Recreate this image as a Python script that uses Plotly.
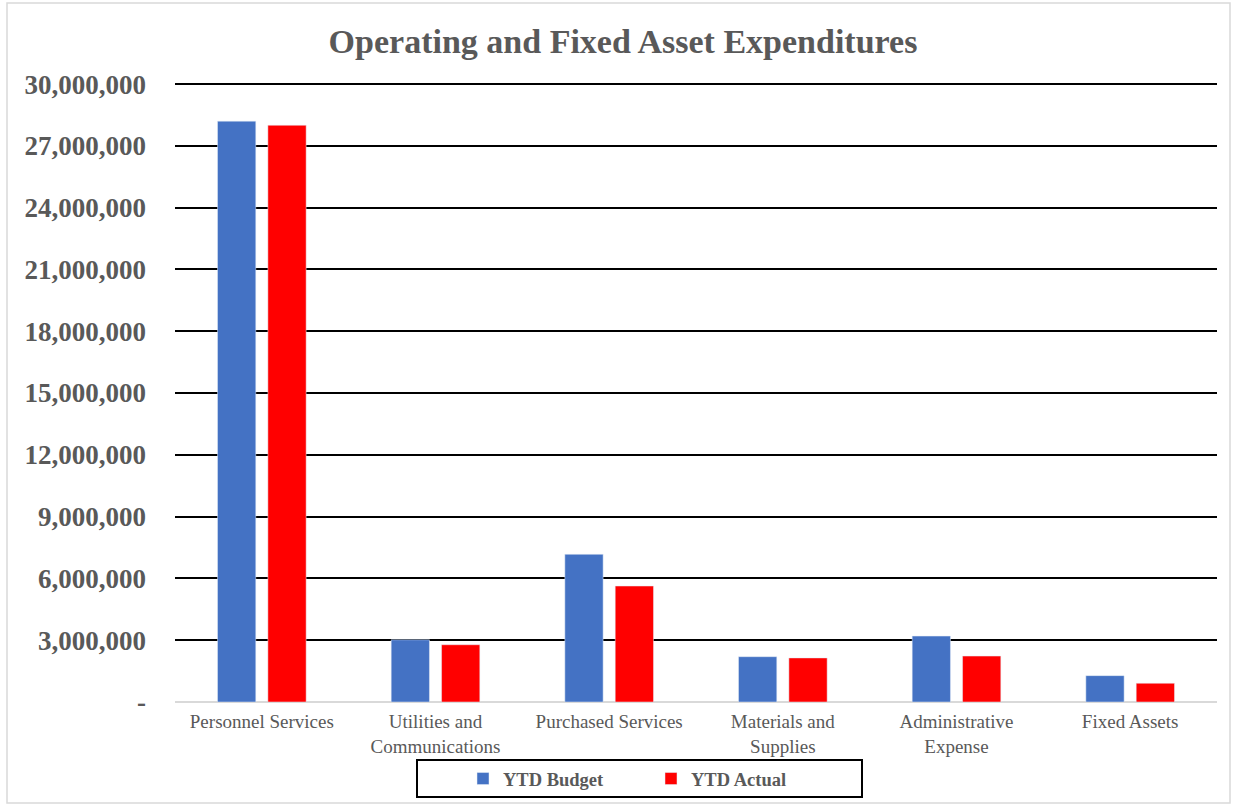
import plotly.graph_objects as go

categories = ["Personnel Services", "Utilities and<br>Communications", "Purchased Services",
              "Materials and<br>Supplies", "Administrative<br>Expense", "Fixed Assets"]
ytd_budget = [28200000, 3020000, 7170000, 2200000, 3200000, 1280000]
ytd_actual = [28000000, 2780000, 5630000, 2140000, 2230000, 910000]
tick_vals = [0, 3000000, 6000000, 9000000, 12000000, 15000000, 18000000, 21000000, 24000000, 27000000, 30000000]
tick_text = ["-"] + [f"{v:,}" for v in tick_vals[1:]]

GREY = "#595959"
SERIF = "Liberation Serif, Times New Roman, serif"

fig = go.Figure()
fig.add_trace(go.Bar(name="YTD Budget", x=categories, y=ytd_budget, marker_color="#4472C4"))
fig.add_trace(go.Bar(name="YTD Actual", x=categories, y=ytd_actual, marker_color="#FF0000"))

W, H = 1233, 806
L, R, T, B = 175, 16, 82, 104
pw, ph = W - L - R, H - T - B

def px_x(p):
    return (p - L) / pw

def px_y(p):
    return (H - B - p) / ph

fig.update_layout(
    width=W, height=H,
    margin=dict(l=L, r=R, t=T, b=B, autoexpand=False),
    paper_bgcolor="white", plot_bgcolor="white",
    barmode="group", bargap=0.42, bargroupgap=0.24,
    title=dict(text="<b>Operating and Fixed Asset Expenditures</b>",
               font=dict(family=SERIF, size=34, color=GREY),
               x=px_x(623), xref="paper", xanchor="center",
               y=1 - 41 / H, yanchor="middle"),
    font=dict(family=SERIF, color=GREY),
    showlegend=True,
    legend=dict(orientation="h", x=px_x(463), xanchor="left",
                y=px_y(760), yanchor="top",
                borderwidth=0, bgcolor="rgba(0,0,0,0)",
                entrywidth=143, entrywidthmode="pixels",
                font=dict(family=SERIF, size=18.5, color=GREY, weight="bold")),
    xaxis=dict(tickfont=dict(family=SERIF, size=19, color=GREY),
               showgrid=False, showline=False, zeroline=False, automargin=False,
               ticks="", ticklabelstandoff=6),
    yaxis=dict(range=[0, 30100000], tickvals=tick_vals, ticktext=tick_text,
               tickfont=dict(family=SERIF, size=27, color=GREY, weight="bold"),
               showgrid=True, gridcolor="black", gridwidth=2, automargin=False,
               zeroline=True, zerolinecolor="#D9D9D9", zerolinewidth=2,
               showline=False, ticks="", ticklabelstandoff=28),
    shapes=[
        dict(type="rect", xref="paper", yref="paper",
             x0=px_x(7), x1=px_x(1230), y0=px_y(803), y1=px_y(3),
             line=dict(color="#D9D9D9", width=1.5), layer="below"),
        dict(type="rect", xref="paper", yref="paper",
             x0=px_x(417), x1=px_x(862), y0=px_y(797), y1=px_y(760),
             line=dict(color="black", width=2)),
    ],
)

fig.write_html("out.html", config={"displayModeBar": False},
               post_script="document.body.style.margin='0';")
